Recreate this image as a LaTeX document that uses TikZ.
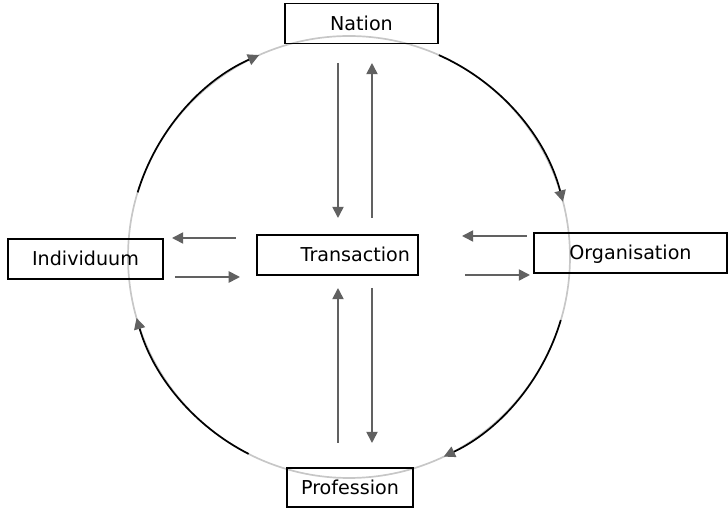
\documentclass[tikz,border=0pt]{standalone}
\usepackage{fontspec}
\setmainfont{DejaVu Sans}
\usetikzlibrary{arrows.meta}

\begin{document}
\begin{tikzpicture}[
        box/.style={draw, line width=1.2pt, inner sep=0pt, minimum height=1cm,
                    text height=9.8pt, text depth=0pt, font=\fontsize{13.6}{16}\selectfont},
        flow/.style={draw=black!62, line width=1.2pt, -{Triangle[length=8pt, width=8pt]}},
        ring/.style={draw=black!22, line width=1.2pt},
        turn/.style={draw=black, line width=1.2pt, -{Triangle[length=8pt, width=8pt, color=black!62]}}
    ]
    \useasboundingbox (-8.725,-6.275) rectangle (9.475,6.425);

    % outer cycle
    \draw[ring] (0,0) circle (5.525);
    \draw[turn] (163:5.525) arc (163:114:5.525);
    \draw[turn] (66:5.525) arc (66:14.5:5.525);
    \draw[turn] (-16.6:5.525) arc (-16.6:-64.6:5.525);
    \draw[turn] (-117:5.525) arc (-117:-164:5.525);

    % actors
    \node[box, minimum width=3.825cm] (nation) at (0.3125, 5.8375) {Nation};
    \node[box, minimum width=4.025cm, text width=3.625cm, align=right] (transaction) at (-0.2875, 0.05) {Transaction};
    \node[box, minimum width=3.875cm] (individuum) at (-6.5875, -0.05) {Individuum};
    \node[box, minimum width=4.825cm] (organisation) at (7.0375, 0.1) {Organisation};
    \node[box, minimum width=3.15cm, minimum height=0.975cm] (profession) at (0.025, -5.7625) {Profession};

    % arrow ends
    \coordinate (n1) at (-0.275, 4.85);
    \coordinate (n2) at (-0.275, 0.975);
    \coordinate (n3) at (0.575, 0.975);
    \coordinate (n4) at (0.575, 4.85);
    \coordinate (p1) at (0.575, -0.775);
    \coordinate (p2) at (0.575, -4.65);
    \coordinate (p3) at (-0.275, -4.65);
    \coordinate (p4) at (-0.275, -0.775);
    \coordinate (i1) at (-2.825, 0.475);
    \coordinate (i2) at (-4.425, 0.475);
    \coordinate (i3) at (-4.35, -0.5);
    \coordinate (i4) at (-2.725, -0.5);
    \coordinate (o1) at (4.45, 0.525);
    \coordinate (o2) at (2.825, 0.525);
    \coordinate (o3) at (2.9, -0.45);
    \coordinate (o4) at (4.525, -0.45);

    \draw[flow] (n1) -- (n2);
    \draw[flow] (n3) -- (n4);
    \draw[flow] (p1) -- (p2);
    \draw[flow] (p3) -- (p4);
    \draw[flow] (i1) -- (i2);
    \draw[flow] (i3) -- (i4);
    \draw[flow] (o1) -- (o2);
    \draw[flow] (o3) -- (o4);
\end{tikzpicture}
\end{document}
